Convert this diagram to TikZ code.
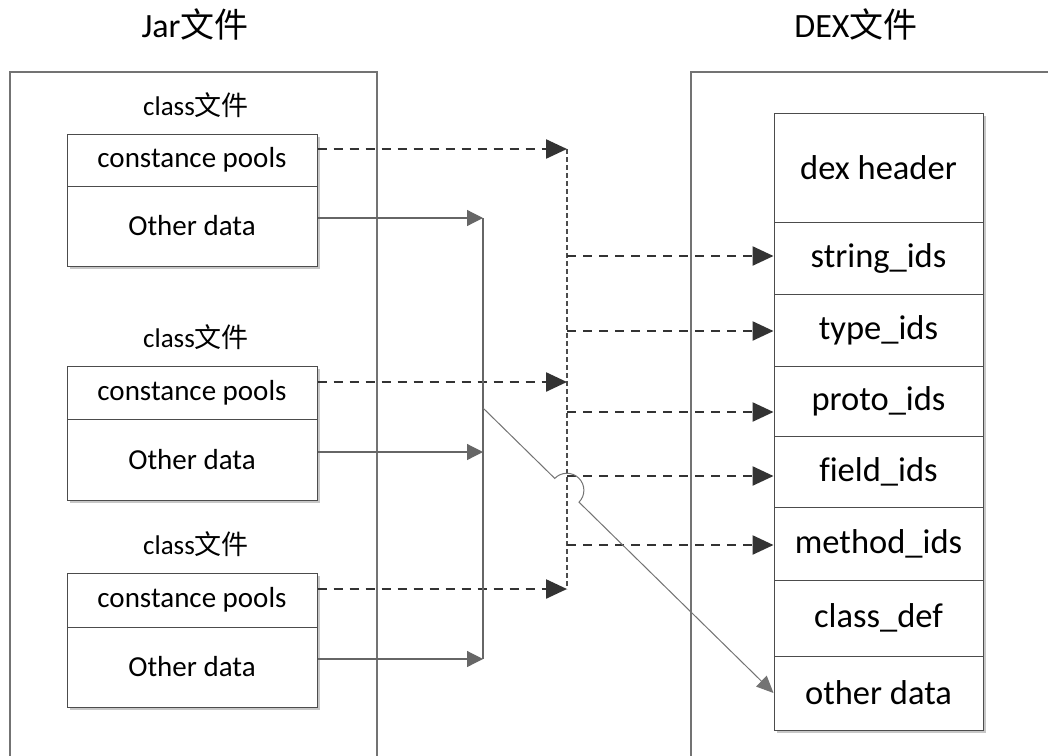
\documentclass[tikz,border=0pt]{standalone}
\usepackage{fontspec}
\setmainfont{Carlito}[Ligatures=NoCommon]
\newfontfamily\cjk{Noto Sans CJK SC}
\usetikzlibrary{arrows.meta,shadows,calc}
\begin{document}
\begin{tikzpicture}[x=1pt,y=-1pt,
  frame/.style={draw=black!55, line width=1.2pt},
  row/.style={draw=black!70, line width=1pt, fill=white, inner sep=0pt,
    minimum width=250pt,
    drop shadow={shadow xshift=3pt, shadow yshift=-3pt, fill=black!22, opacity=1},
    font=\fontsize{29}{32}\selectfont},
  drow/.style={row, minimum width=209pt, font=\fontsize{34.5}{38}\selectfont},
  lbl/.style={font=\fontsize{27}{30}\selectfont, inner sep=0pt, anchor=base},
  title/.style={font=\fontsize{34}{38}\selectfont, inner sep=0pt, anchor=base},
  dasharrow/.style={draw=black!80, line width=2.4pt, dash pattern=on 9pt off 7pt,
    -{Triangle[length=21pt,width=19pt]}},
  bus/.style={draw=black!70, line width=1.2pt, dash pattern=on 5pt off 3pt},
  solidline/.style={draw=black!60, line width=1.2pt},
  solidarrow/.style={solidline, -{Triangle[length=16pt,width=16pt]}},
  diag/.style={draw=black!55, line width=1pt, -{Triangle[length=17pt,width=15pt]}}
]
\clip (0,0) rectangle (1048,755);
\fill[white] (0,0) rectangle (1048,755);

% titles
\node[title] (tjar) at (195,37) {Jar{\cjk 文件}};
\node[title] (tdex) at (856,37) {DEX{\cjk 文件}};

% outer frames
\draw[frame] (10,72) rectangle (377,800);
\draw[frame] (691,72) rectangle (1100,800);

% class files
\node[lbl] (l1) at (196,115) {class{\cjk 文件}};
\node[row, minimum height=52pt] (cp1) at (192,160) {constance pools};
\node[row, minimum height=80pt] (od1) at (192,226) {Other data};

\node[lbl] (l2) at (196,347) {class{\cjk 文件}};
\node[row, minimum height=53pt] (cp2) at (192,392.5) {constance pools};
\node[row, minimum height=81pt] (od2) at (192,459.5) {Other data};

\node[lbl] (l3) at (196,554) {class{\cjk 文件}};
\node[row, minimum height=54pt] (cp3) at (192,600) {constance pools};
\node[row, minimum height=80pt] (od3) at (192,667) {Other data};

% dex file rows
\node[drow, minimum height=109pt] (hdr) at (878.5,167.5) {dex header};
\node[drow, minimum height=72pt] (sid) at (878.5,258) {string\_ids};
\node[drow, minimum height=72pt] (tid) at (878.5,330) {type\_ids};
\node[drow, minimum height=70pt] (pid) at (878.5,401) {proto\_ids};
\node[drow, minimum height=71pt] (fid) at (878.5,471.5) {field\_ids};
\node[drow, minimum height=73pt] (mid) at (878.5,543.5) {method\_ids};
\node[drow, minimum height=76pt] (cdf) at (878.5,618) {class\_def};
\node[drow, minimum height=74pt] (odx) at (878.5,693) {other data};

% junction coordinates
\coordinate (b1) at (567,149);
\coordinate (b2) at (567,382);
\coordinate (b3) at (567,589);
\coordinate (r1) at (567,256);
\coordinate (r2) at (567,331);
\coordinate (r3) at (567,412);
\coordinate (r4) at (567,476);
\coordinate (r5) at (567,545);
\coordinate (o1) at (483,218);
\coordinate (o2) at (483,452);
\coordinate (o3) at (483,659);
\coordinate (dstart) at (483,408);

% constant pools -> bus
\draw[bus] (b1) -- (b3);
\draw[dasharrow] (cp1.east |- b1) -- (b1);
\draw[dasharrow] (cp2.east |- b2) -- (b2);
\draw[dasharrow] (cp3.east |- b3) -- (b3);

% bus -> dex id sections
\draw[dasharrow] (r1) -- (r1 -| sid.west);
\draw[dasharrow] (r2) -- (r2 -| tid.west);
\draw[dasharrow] (r3) -- (r3 -| pid.west);
\draw[dasharrow] (r4) -- (r4 -| fid.west);
\draw[dasharrow] (r5) -- (r5 -| mid.west);

% other data -> collector
\draw[solidline] (o1) -- (o3);
\draw[solidarrow] (od1.east |- o1) -- (o1);
\draw[solidarrow] (od2.east |- o2) -- (o2);
\draw[solidarrow] (od3.east |- o3) -- (o3);

% collector -> other data (with hop over the bus)
\draw[diag] (dstart) -- ($(dstart)!0.2469!(odx.west)$)
  arc[start angle=224.4, end angle=404.4, radius=17] -- (odx.west);
\end{tikzpicture}
\end{document}
